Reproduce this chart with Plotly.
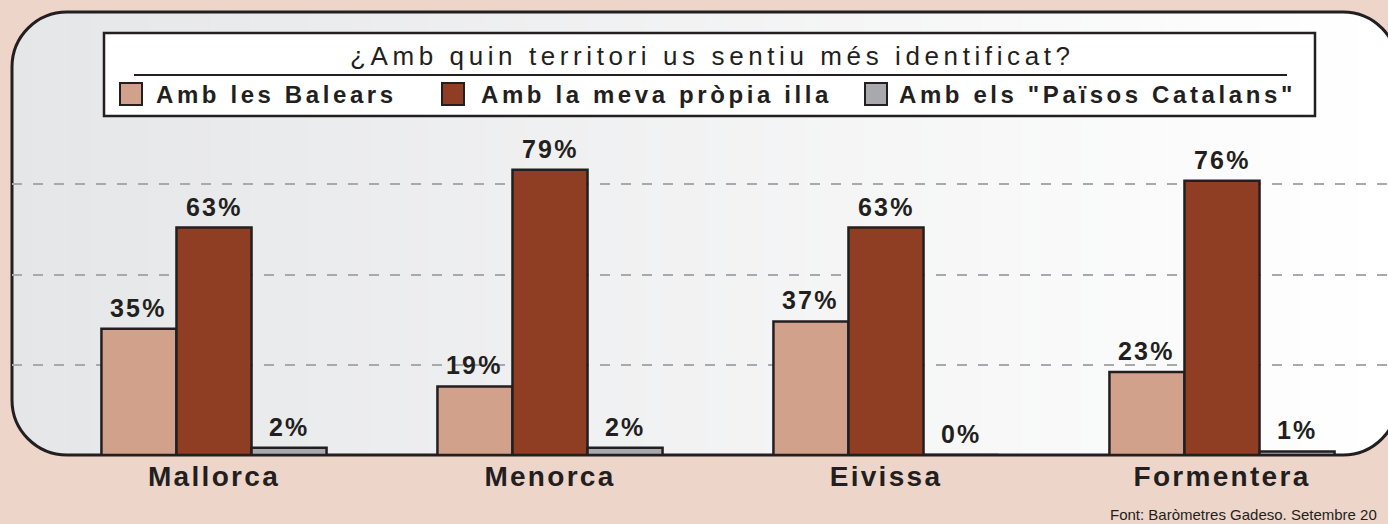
import plotly.graph_objects as go

# ---------------- data ----------------
categories = ["Mallorca", "Menorca", "Eivissa", "Formentera"]
series_names = ["Amb les Balears", "Amb la meva pròpia illa", 'Amb els "Països Catalans"']
balears = [35, 19, 37, 23]
propia_illa = [63, 79, 63, 76]
paisos_catalans = [2, 2, 0, 1]
gridline_values = [25, 50, 75]
title_text = "¿Amb quin territori us sentiu més identificat?"
source_text = "Font: Baròmetres Gadeso. Setembre 20"

# ---------------- style ----------------
INK = "#231F20"
BG = "#EDD5C9"
COLORS = ["#D2A18B", "#8F3D23", "#A8A9AC"]
GRID = "#A8A9AC"
FONT = "Liberation Sans, Arial, sans-serif"

W, H = 1388, 524
ML, MR, MT, MB = 12, 0, 94, 69
PW = W - ML - MR
PH = H - MT - MB
BARGAP = 0.33


def px(x):
    return (x - ML) / PW


def py(y):
    return (H - MB - y) / PH


def spaced(txt, sp):
    return f'<span style="letter-spacing:{sp}px">{txt}</span>'


fig = go.Figure()
series = [balears, propia_illa, paisos_catalans]
for name, vals, col in zip(series_names, series, COLORS):
    fig.add_trace(go.Bar(
        x=categories, y=vals, name=name,
        marker=dict(color=col, line=dict(color=INK, width=2.5)),
        showlegend=False, cliponaxis=False, hoverinfo="skip",
    ))

shapes = []

# ---- panel with horizontal gradient (strips) ----
R = 55
X0, X1, Y0, Y1 = 12, 1398, 12, 455


def edge(x):
    if x < X0 + R:
        d = X0 + R - x
    elif x > X1 - R:
        d = x - (X1 - R)
    else:
        return Y0, Y1
    d = min(d, R)
    dy = R - (R * R - d * d) ** 0.5
    return Y0 + dy, Y1 - dy


cl = (229, 230, 232)
cr = (255, 255, 255)
N = 70
step = (X1 - X0) / N
for i in range(N):
    xa = X0 + i * step
    xb = min(X1, xa + step + 1.0)
    xm = (xa + xb) / 2
    t = (xm - X0) / (1388 - X0)
    t = max(0.0, min(1.0, t))
    c = tuple(round(cl[j] + (cr[j] - cl[j]) * t) for j in range(3))
    pts = []
    ns = 6
    for k in range(ns + 1):
        x = xa + (xb - xa) * k / ns
        pts.append((x, edge(x)[0]))
    for k in range(ns, -1, -1):
        x = xa + (xb - xa) * k / ns
        pts.append((x, edge(x)[1]))
    path = "M " + " L ".join(f"{px(a):.6f},{py(b):.6f}" for a, b in pts) + " Z"
    shapes.append(dict(type="path", path=path, xref="paper", yref="paper",
                       fillcolor=f"rgb{c}", line=dict(width=0), layer="below"))

K = 0.5523 * R
outline = (
    f"M {px(X0):.6f},{py(Y0 + R):.6f} "
    f"C {px(X0):.6f},{py(Y0 + R - K):.6f} {px(X0 + R - K):.6f},{py(Y0):.6f} {px(X0 + R):.6f},{py(Y0):.6f} "
    f"L {px(X1 - R):.6f},{py(Y0):.6f} "
    f"C {px(X1 - R + K):.6f},{py(Y0):.6f} {px(X1):.6f},{py(Y0 + R - K):.6f} {px(X1):.6f},{py(Y0 + R):.6f} "
    f"L {px(X1):.6f},{py(Y1 - R):.6f} "
    f"C {px(X1):.6f},{py(Y1 - R + K):.6f} {px(X1 - R + K):.6f},{py(Y1):.6f} {px(X1 - R):.6f},{py(Y1):.6f} "
    f"L {px(X0 + R):.6f},{py(Y1):.6f} "
    f"C {px(X0 + R - K):.6f},{py(Y1):.6f} {px(X0):.6f},{py(Y1 - R + K):.6f} {px(X0):.6f},{py(Y1 - R):.6f} Z"
)
shapes.append(dict(type="path", path=outline, xref="paper", yref="paper",
                   fillcolor="rgba(0,0,0,0)", line=dict(color=INK, width=3), layer="below"))

# ---- legend box ----
shapes.append(dict(type="rect", xref="paper", yref="paper",
                   x0=px(104), x1=px(1315), y0=py(116), y1=py(33),
                   fillcolor="white", line=dict(color=INK, width=2.5), layer="below"))
shapes.append(dict(type="line", xref="paper", yref="paper",
                   x0=px(134), x1=px(1287), y0=py(75), y1=py(75),
                   line=dict(color=INK, width=2), layer="below"))

legend_sq_x = [120, 442, 865]
legend_txt_x = [154, 479, 897]
for sx, col in zip(legend_sq_x, COLORS):
    shapes.append(dict(type="rect", xref="paper", yref="paper",
                       x0=px(sx), x1=px(sx + 22), y0=py(105), y1=py(83),
                       fillcolor=col, line=dict(color=INK, width=2), layer="above"))

annotations = []
annotations.append(dict(text=spaced(title_text, 4.6), xref="paper", yref="paper",
                        x=px(712), y=py(56), xanchor="center", yanchor="middle",
                        showarrow=False, font=dict(family=FONT, size=26, color=INK)))
for tx, name in zip(legend_txt_x, series_names):
    annotations.append(dict(text=spaced(name, 3.6), xref="paper", yref="paper",
                            x=px(tx), y=py(94), xanchor="left", yanchor="middle",
                            showarrow=False,
                            font=dict(family=FONT, size=24, color=INK, weight="bold")))

# value labels
bw = (1 - BARGAP) / 3
for k, vals in enumerate(series):
    for i, v in enumerate(vals):
        annotations.append(dict(text=spaced(f"{v}%", 2.2), x=i + (k - 1) * bw, y=v,
                                xref="x", yref="y", xanchor="center", yanchor="middle",
                                yshift=21, showarrow=False,
                                font=dict(family=FONT, size=25, color=INK, weight="bold")))

annotations.append(dict(text=source_text, xref="paper", yref="paper",
                        x=px(1108), y=py(514), xanchor="left", yanchor="middle",
                        showarrow=False, font=dict(family=FONT, size=15, color=INK)))

fig.update_layout(
    width=W, height=H,
    margin=dict(l=ML, r=MR, t=MT, b=MB, pad=0),
    paper_bgcolor=BG, plot_bgcolor="rgba(0,0,0,0)",
    barmode="group", bargap=BARGAP, bargroupgap=0,
    shapes=shapes, annotations=annotations,
    showlegend=False,
    xaxis=dict(
        range=[-202 / 336, (PW - 202) / 336],
        tickvals=categories,
        ticktext=[spaced(c, 2.3) for c in categories],
        tickfont=dict(family=FONT, size=28, color=INK, weight="bold"),
        showgrid=False, zeroline=False, showline=False, ticks="",
        ticklabelstandoff=2, fixedrange=True,
    ),
    yaxis=dict(
        range=[0, 100], tickvals=gridline_values, showticklabels=False,
        showgrid=True, gridcolor=GRID, gridwidth=2, griddash="10px,11px",
        zeroline=False, showline=False, ticks="", fixedrange=True,
    ),
)

fig.write_html(
    "out.html",
    config={"displayModeBar": False},
    post_script="document.body.style.margin='0';document.body.style.overflow='hidden';",
)
